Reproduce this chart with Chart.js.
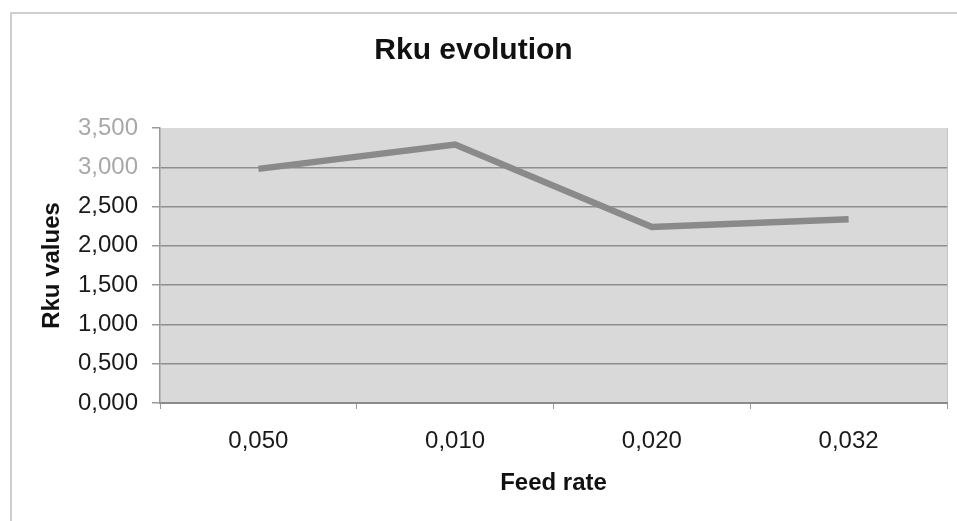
<!DOCTYPE html>
<html>
<head>
<meta charset="utf-8">
<script src="https://cdn.jsdelivr.net/npm/chart.js@4/dist/chart.umd.min.js"></script>
<style>
  html, body { margin: 0; padding: 0; background: #ffffff; }
  #wrap { width: 957px; height: 521px; position: relative; }
</style>
</head>
<body>
<div id="wrap"><canvas id="c" width="957" height="521"></canvas></div>
<script>
// ---- data ----
const categories = ['0,050', '0,010', '0,020', '0,032'];
const rkuValues = [2.98, 3.29, 2.24, 2.34];
const yTickLabels = ['0,000', '0,500', '1,000', '1,500', '2,000', '2,500', '3,000', '3,500'];
const chartTitle = 'Rku evolution';
const xTitle = 'Feed rate';
const yTitle = 'Rku values';

const plotBg = {
  id: 'plotBg',
  beforeDraw(chart) {
    const { ctx, chartArea: a } = chart;
    ctx.save();
    ctx.fillStyle = '#d9d9d9';
    ctx.fillRect(a.left, a.top, a.right - a.left, a.bottom - a.top);
    ctx.strokeStyle = '#c4c4c4';
    ctx.lineWidth = 1;
    ctx.beginPath();
    ctx.moveTo(a.right + 0.5, a.top);
    ctx.lineTo(a.right + 0.5, a.bottom + 6);
    ctx.stroke();
    // outer frame of the chart object
    ctx.strokeStyle = '#cfcfcf';
    ctx.lineWidth = 2;
    ctx.beginPath();
    ctx.moveTo(11, 521);
    ctx.lineTo(11, 13);
    ctx.lineTo(957, 13);
    ctx.stroke();
    ctx.restore();
  }
};

new Chart(document.getElementById('c'), {
  type: 'line',
  data: {
    labels: categories,
    datasets: [{
      data: rkuValues,
      borderColor: '#8a8a8a',
      borderWidth: 6.5,
      pointRadius: 0,
      tension: 0,
      borderJoinStyle: 'miter',
      borderCapStyle: 'butt',
      fill: false
    }]
  },
  options: {
    responsive: false,
    animation: false,
    layout: { padding: { left: 0, right: 10, top: 0, bottom: 0 } },
    plugins: {
      legend: { display: false },
      tooltip: { enabled: false },
      title: {
        display: true,
        text: chartTitle,
        color: '#111',
        font: { family: 'Liberation Sans', size: 30, weight: 'bold', lineHeight: 1.2 },
        padding: { top: 33, bottom: 59 }
      }
    },
    scales: {
      x: {
        type: 'category',
        offset: true,
        afterFit(s) { s.height = 118; },
        grid: {
          offset: true,
          drawOnChartArea: false,
          drawTicks: true,
          tickLength: 6,
          color: '#9a9a9a'
        },
        border: { display: true, color: '#8a8a8a', width: 2 },
        ticks: {
          color: '#1a1a1a',
          padding: 18,
          maxRotation: 0,
          font: { family: 'Liberation Sans', size: 24, lineHeight: 1.2 }
        },
        title: {
          display: true,
          text: xTitle,
          color: '#111',
          font: { family: 'Liberation Sans', size: 24, weight: 'bold', lineHeight: 1.2 },
          padding: { top: 0, bottom: 23.6 }
        }
      },
      y: {
        min: 0,
        max: 3.5,
        afterFit(s) { s.width = 160; },
        ticks: {
          stepSize: 0.5,
          padding: 14,
          color: (c) => (c.index >= 6 ? '#a8a8a8' : '#1a1a1a'),
          font: { family: 'Liberation Sans', size: 24, lineHeight: 1.2 },
          callback: (v, i) => yTickLabels[i]
        },
        grid: {
          color: (c) => (c.index === 7 ? 'rgba(0,0,0,0)' : '#8e8e8e'),
          lineWidth: 1.5,
          drawTicks: true,
          tickLength: 8,
          tickColor: '#9a9a9a'
        },
        border: { display: true, color: '#9a9a9a', width: 1.5 },
        title: {
          display: true,
          text: yTitle,
          color: '#111',
          font: { family: 'Liberation Sans', size: 24, weight: 'bold', lineHeight: 1.2 },
          padding: { top: 37.6, bottom: 0 }
        }
      }
    }
  },
  plugins: [plotBg]
});
</script>
</body>
</html>
